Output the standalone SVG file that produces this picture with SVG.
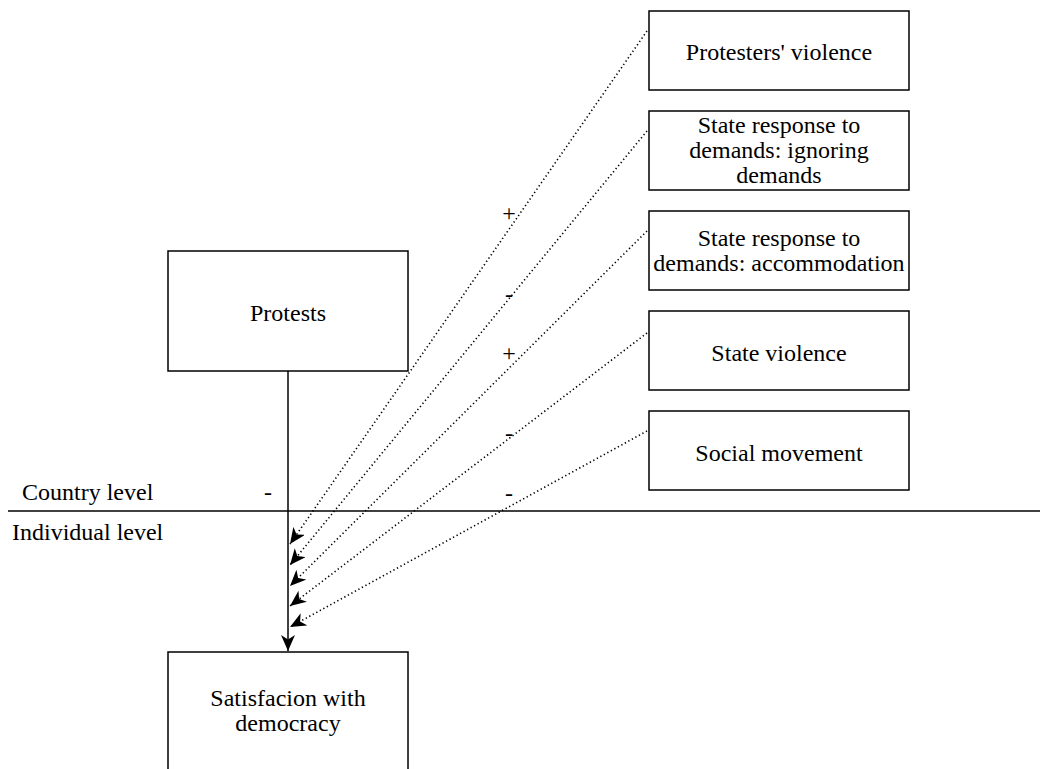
<svg xmlns="http://www.w3.org/2000/svg" width="1040" height="769" viewBox="0 0 1040 769">
<style>
.box{fill:#fff;stroke:#000;stroke-width:1.5}
.c{text-anchor:middle}
.dot{fill:none;stroke:#000;stroke-width:1.6;stroke-dasharray:1.3 2.7}
.solid{fill:none;stroke:#000;stroke-width:1.5}
</style>
<defs>
<marker id="arr" markerUnits="userSpaceOnUse" markerWidth="17" markerHeight="14" refX="16" refY="7" orient="auto" viewBox="0 0 17 14">
<path d="M0,0 L16,7 L0,14 L4.5,7 Z" fill="#000"/>
</marker>
</defs>
<rect width="1040" height="769" fill="#fff"/>
<g font-family="'Liberation Serif', 'Times New Roman', Times, serif" font-size="24" fill="#000">
<g id="levels">
<line x1="8" y1="511" x2="1040" y2="511" class="solid"/>
<text x="22" y="500">Country level</text>
<text x="12" y="540">Individual level</text>
</g>
<g id="connectors">
<line x1="288" y1="371" x2="288" y2="651" class="solid" marker-end="url(#arr)"/>
<line x1="647" y1="31" x2="290" y2="544" class="dot" marker-end="url(#arr)"/>
<line x1="647" y1="131" x2="290" y2="565" class="dot" marker-end="url(#arr)"/>
<line x1="647" y1="231" x2="290" y2="586" class="dot" marker-end="url(#arr)"/>
<line x1="647" y1="333" x2="290" y2="606" class="dot" marker-end="url(#arr)"/>
<line x1="647" y1="431" x2="290" y2="627" class="dot" marker-end="url(#arr)"/>
<text class="c" x="268" y="500">-</text>
<text class="c" x="509" y="221">+</text>
<text class="c" x="509" y="302">-</text>
<text class="c" x="509" y="361">+</text>
<text class="c" x="509" y="441">-</text>
<text class="c" x="509" y="501">-</text>
</g>
<g id="protests">
<rect class="box" x="168" y="251" width="240" height="120"/>
<text class="c" x="288" y="321">Protests</text>
</g>
<g id="satisfaction">
<rect class="box" x="168" y="652" width="240" height="120"/>
<text class="c" x="288" y="706">Satisfacion with</text>
<text class="c" x="288" y="731">democracy</text>
</g>
<g id="protesters-violence">
<rect class="box" x="649" y="11" width="260" height="79"/>
<text class="c" x="779" y="60">Protesters' violence</text>
</g>
<g id="ignoring-demands">
<rect class="box" x="649" y="111" width="260" height="79"/>
<text class="c" x="779" y="133">State response to</text>
<text class="c" x="779" y="158">demands: ignoring</text>
<text class="c" x="779" y="183">demands</text>
</g>
<g id="accommodation">
<rect class="box" x="649" y="211" width="260" height="79"/>
<text class="c" x="779" y="246">State response to</text>
<text class="c" x="779" y="271">demands: accommodation</text>
</g>
<g id="state-violence">
<rect class="box" x="649" y="311" width="260" height="79"/>
<text class="c" x="779" y="361">State violence</text>
</g>
<g id="social-movement">
<rect class="box" x="649" y="411" width="260" height="79"/>
<text class="c" x="779" y="461">Social movement</text>
</g>
</g>
</svg>
